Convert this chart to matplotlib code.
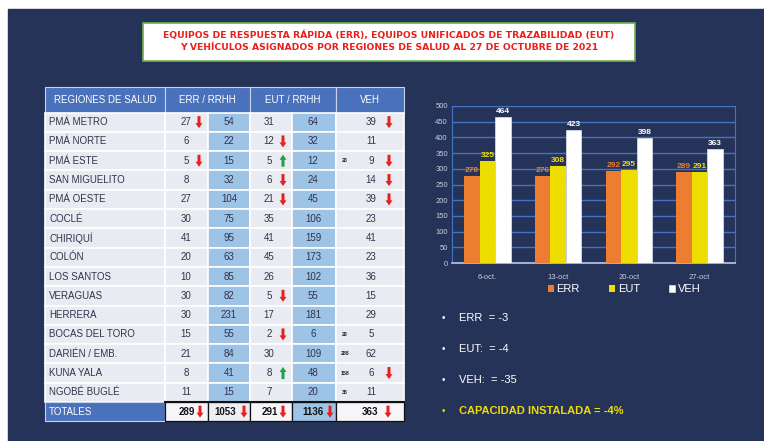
import matplotlib
matplotlib.use("Agg")
import matplotlib.pyplot as plt
from matplotlib.patches import Rectangle, FancyArrow
import numpy as np

plt.rcParams['font.family'] = ['Liberation Sans', 'DejaVu Sans']

# Table data
regions = ["PMÁ METRO", "PMÁ NORTE", "PMÁ ESTE", "SAN MIGUELITO", "PMÁ OESTE",
           "COCLÉ", "CHIRIQUÍ", "COLÓN", "LOS SANTOS", "VERAGUAS", "HERRERA",
           "BOCAS DEL TORO", "DARIÉN / EMB.", "KUNA YALA", "NGOBÉ BUGLÉ"]
err = [27, 6, 5, 8, 27, 30, 41, 20, 10, 30, 30, 15, 21, 8, 11]
err_rrhh = [54, 22, 15, 32, 104, 75, 95, 63, 85, 82, 231, 55, 84, 41, 15]
eut = [31, 12, 5, 6, 21, 35, 41, 45, 26, 5, 17, 2, 30, 8, 7]
eut_rrhh = [64, 32, 12, 24, 45, 106, 159, 173, 102, 55, 181, 6, 109, 48, 20]
veh = [39, 11, 9, 14, 39, 23, 41, 23, 36, 15, 29, 5, 62, 6, 11]
veh_notes = ["", "", "28", "", "", "", "", "", "", "", "", "28", "288", "158", "38"]
err_arrow = ["d", "", "d", "", "", "", "", "", "", "", "", "", "", "", ""]
eut_arrow = ["", "d", "u", "d", "d", "", "", "", "", "d", "", "d", "", "u", ""]
veh_arrow = ["d", "", "d", "d", "d", "", "", "", "", "", "", "", "", "d", ""]
totals = [289, 1053, 291, 1136, 363]
headers = ["REGIONES DE SALUD", "ERR / RRHH", "EUT / RRHH", "VEH"]

# Chart data
dates = ["6-oct.", "13-oct", "20-oct", "27-oct"]
err_week = [278, 276, 292, 289]
eut_week = [325, 308, 295, 291]
veh_week = [464, 423, 398, 363]

bullets = ["ERR  = -3", "EUT:  = -4", "VEH:  = -35", "CAPACIDAD INSTALADA = -4%"]

navy = '#263358'
head_blue = '#4a72bc'
cell_gray = '#e9ebf2'
cell_blue = '#9dc3e6'
txt_col = '#33334a'
red = '#e8201c'
green = '#1fa046'
orange = '#ed7d31'
yellow = '#eedd00'

fig = plt.figure(figsize=(7.64, 4.41), dpi=100)
bg = fig.add_axes([0, 0, 1, 1], zorder=0)
bg.set_xlim(0, 764)
bg.set_ylim(441, 0)
bg.axis('off')
bg.add_patch(Rectangle((8, 9), 760, 440, color=navy))

# Title box
bg.add_patch(Rectangle((143, 23), 492, 38, facecolor='white', edgecolor='#6fb04a', lw=1.2))
bg.text(389, 35, "EQUIPOS DE RESPUESTA RÁPIDA (ERR), EQUIPOS UNIFICADOS DE TRAZABILIDAD (EUT)",
        ha='center', va='center', color=red, fontsize=6.7, fontweight='bold', family='DejaVu Sans')
bg.text(389, 48, "Y VEHÍCULOS ASIGNADOS POR REGIONES DE SALUD AL 27 DE OCTUBRE DE 2021",
        ha='center', va='center', color=red, fontsize=6.7, fontweight='bold', family='DejaVu Sans')


def arrow(x, yc, kind):
    if kind == "d":
        bg.add_patch(FancyArrow(x, yc - 6, 0, 12, width=3, head_width=7, head_length=5,
                                length_includes_head=True, color=red, lw=0))
    elif kind == "u":
        bg.add_patch(FancyArrow(x, yc + 6, 0, -12, width=3, head_width=7, head_length=5,
                                length_includes_head=True, color=green, lw=0))


# Table layout
cols = [45, 165, 208, 250, 292, 336, 404]
top, head_h, row_h = 87, 25.5, 19.3
first = top + head_h
fs = 7

# header
head_spans = [(cols[0], cols[1]), (cols[1], cols[3]), (cols[3], cols[5]), (cols[5], cols[6])]
for (x0, x1), h in zip(head_spans, headers):
    bg.add_patch(Rectangle((x0, top), x1 - x0, head_h, facecolor=head_blue, edgecolor='#c9d3e8', lw=0.8))
    bg.text((x0 + x1) / 2, top + head_h / 2, h, ha='center', va='center', color='white', fontsize=fs)

for i, name in enumerate(regions):
    y0 = first + i * row_h
    yc = y0 + row_h / 2
    fills = [cell_gray, cell_gray, cell_blue, cell_gray, cell_blue, cell_gray]
    for j in range(6):
        bg.add_patch(Rectangle((cols[j], y0), cols[j + 1] - cols[j], row_h,
                               facecolor=fills[j], edgecolor='white', lw=1.2))
    bg.text(49, yc, name, ha='left', va='center', color=txt_col, fontsize=fs)
    bg.text(186, yc, str(err[i]), ha='center', va='center', color=txt_col, fontsize=fs)
    bg.text(229, yc, str(err_rrhh[i]), ha='center', va='center', color=txt_col, fontsize=fs)
    bg.text(269, yc, str(eut[i]), ha='center', va='center', color=txt_col, fontsize=fs)
    bg.text(313, yc, str(eut_rrhh[i]), ha='center', va='center', color=txt_col, fontsize=fs)
    bg.text(371, yc, str(veh[i]), ha='center', va='center', color=txt_col, fontsize=fs)
    if veh_notes[i]:
        bg.text(345, yc, veh_notes[i], ha='center', va='center', color='#222222', fontsize=3.8,
                fontweight='bold')
    arrow(199, yc, err_arrow[i])
    arrow(283, yc, eut_arrow[i])
    arrow(389, yc, veh_arrow[i])

# totals row
ty0 = first + len(regions) * row_h
tyc = ty0 + row_h / 2
bg.add_patch(Rectangle((cols[0], ty0), cols[1] - cols[0], row_h, facecolor=head_blue,
                       edgecolor='#c9d3e8', lw=0.8))
bg.text(49, tyc, "TOTALES", ha='left', va='center', color='white', fontsize=fs)
tot_fill = ['#f6f6f8', '#eceef3', '#f6f6f8', cell_blue, '#f6f6f8']
tot_x = [187, 225, 270, 313, 370]
tot_arr = [200, 244, 283, 330, 388]
for j in range(5):
    bg.add_patch(Rectangle((cols[j + 1], ty0), cols[j + 2] - cols[j + 1], row_h,
                           facecolor=tot_fill[j], edgecolor='#111111', lw=0.9))
    bg.text(tot_x[j], tyc, str(totals[j]), ha='center', va='center', color='#111111',
            fontsize=fs, fontweight='bold')
    arrow(tot_arr[j], tyc, "d")
bg.plot([cols[1], cols[6]], [ty0, ty0], color='#111111', lw=1.5)

# Bullets
for k, b in enumerate(bullets):
    yb = 318 + k * 31
    col = yellow if k == 3 else 'white'
    bg.text(443, yb, "•", ha='center', va='center', color=col, fontsize=7)
    bg.text(459, yb, b, ha='left', va='center', color=col, fontsize=8,
            fontweight='bold' if k == 3 else 'normal')

# Bar chart
ax = fig.add_axes([452 / 764, 1 - 263 / 441, 283 / 764, 157 / 441], zorder=1)
ax.set_facecolor(navy)
x = np.arange(len(dates))
w = 0.22
b1 = ax.bar(x - w, err_week, w, color=orange, label='ERR', zorder=3)
b2 = ax.bar(x, eut_week, w, color=yellow, label='EUT', zorder=3)
b3 = ax.bar(x + w, veh_week, w, color='white', edgecolor='#dfe6f0', lw=0.5, label='VEH', zorder=3)
for bars, c in [(b1, orange), (b2, yellow), (b3, 'white')]:
    ax.bar_label(bars, padding=1.5, fontsize=6, color=c, fontweight='bold')

ax.set_xlim(-0.5, 3.5)
ax.set_ylim(0, 500)
ax.set_yticks(np.arange(0, 501, 50))
ax.set_xticks(x)
ax.set_xticklabels(dates)
ax.tick_params(axis='both', length=0, labelsize=5.5, colors='#c9cfe0')
ax.tick_params(axis='x', pad=8)
ax.tick_params(axis='y', pad=3)
ax.grid(axis='y', color='#4472c4', lw=1, zorder=0)
for s in ['top', 'left', 'right']:
    ax.spines[s].set_color('#4472c4')
ax.spines['bottom'].set_color('#b8c8e8')
ax.spines['bottom'].set_linewidth(1.2)

ax.legend(loc='center', bbox_to_anchor=(624 / 764, 1 - 289 / 441), bbox_transform=fig.transFigure,
          ncol=3, frameon=False, fontsize=8, labelcolor='white', handlelength=0.6,
          handleheight=0.6, handletextpad=0.2, columnspacing=2.6, borderpad=0)

fig.savefig("out.png", dpi=100)
